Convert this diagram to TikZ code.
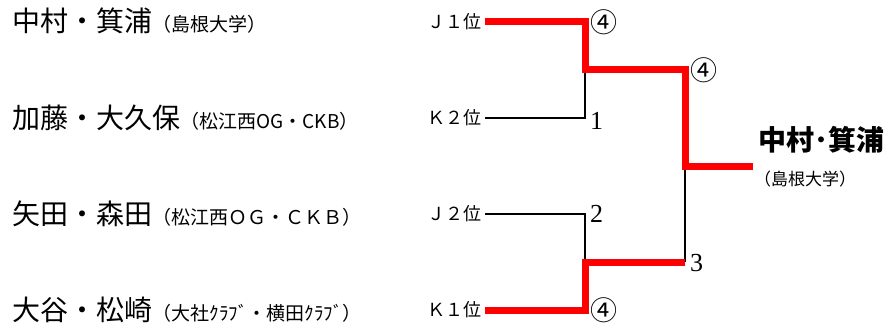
\documentclass[tikz,border=0pt]{standalone}
\usepackage{fontspec}
\usepackage{tikz}
\usetikzlibrary{positioning}
\newfontfamily\jpfont{Noto Sans CJK JP}
\newfontfamily\numfont{Liberation Serif}
\begin{document}
\begin{tikzpicture}[x=1pt,y=-1pt,
    pair/.style={font=\jpfont\fontsize{28}{28}\selectfont, inner sep=0pt, anchor=base west},
    club/.style={font=\jpfont\fontsize{19}{19}\selectfont, inner sep=0pt, anchor=base west},
    rank/.style={font=\jpfont\fontsize{18}{18}\selectfont, inner sep=0pt, anchor=east},
    score/.style={font=\numfont\fontsize{26}{26}\selectfont, inner sep=0pt, anchor=west},
    circ/.style={font=\jpfont\fontsize{27}{27}\selectfont, inner sep=0pt, anchor=west},
    winline/.style={line width=7pt, red},
    loseline/.style={line width=2.4pt, black}]
\useasboundingbox (0,0) rectangle (890,329);

\node[pair] (p1) at (12,32) {中村・箕浦};
\node[club] (c1) at (p1.base east) {（島根大学）};
\node[pair] (p2) at (12,128) {加藤・大久保};
\node[club] (c2) at (p2.base east) {（松江西OG・CKB）};
\node[pair] (p3) at (12,224) {矢田・森田};
\node[club] (c3) at (p3.base east) {（松江西ＯＧ・ＣＫＢ）};
\node[pair] (p4) at (12,320) {大谷・松崎};
\node[club] (c4) at (p4.base east) {（大社ｸﾗﾌﾞ・横田ｸﾗﾌﾞ）};

\node[rank] (j1) at (482,22) {Ｊ１位};
\node[rank] (k2) at (482,118) {Ｋ２位};
\node[rank] (j2) at (482,214) {Ｊ２位};
\node[rank] (k1) at (482,310) {Ｋ１位};

\coordinate (m1) at (585,69);
\coordinate (m2) at (585,262);
\coordinate (fin) at (685,166);
\coordinate (m3) at (685,262);

\node[pair, font=\jpfont\bfseries\fontsize{28}{28}\selectfont] (champ) at (758,150) {中村･箕浦};
\node[club, font=\jpfont\fontsize{17}{17}\selectfont] (champclub) at (754,185) {（島根大学）};
\coordinate (end) at (753,166);

\draw[loseline] ([xshift=3pt]k2.east) -| ([yshift=3pt]m1);
\draw[loseline] ([xshift=3pt]j2.east) -| ([yshift=-3pt]m2);
\draw[loseline] (m3) -- ([yshift=3pt]fin);

\draw[winline] ([xshift=3pt]j1.east) -| (m1) -| (fin) -- (end);
\draw[winline] ([xshift=3pt]k1.east) -| (m2) -- (m3);

\node[circ] at (590,22) {④};
\node[circ] at (690,70) {④};
\node[circ] at (590,310) {④};
\node[score] at (590,121) {1};
\node[score] at (590,214) {2};
\node[score] at (690,263) {3};
\end{tikzpicture}
\end{document}
